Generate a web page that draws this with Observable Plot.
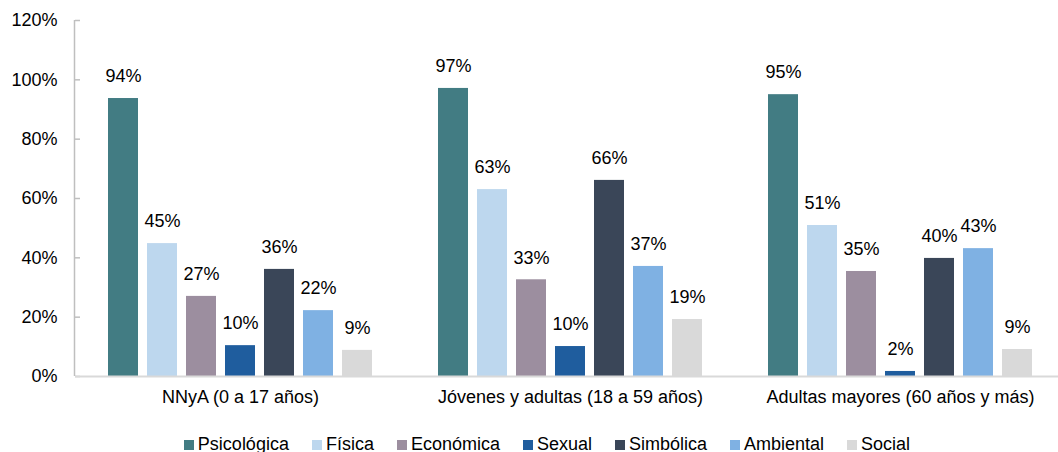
<!DOCTYPE html>
<html>
<head>
<meta charset="utf-8">
<script src="https://cdn.jsdelivr.net/npm/d3@7"></script>
<script src="https://cdn.jsdelivr.net/npm/@observablehq/plot@0.6"></script>
<style>
  html, body { margin: 0; padding: 0; background: #fff; overflow: hidden; }
  body { width: 1058px; font-family: "Liberation Sans", Arial, sans-serif; color: #000; }
  #legend { display: flex; justify-content: center; gap: 23px; padding-left: 36px; margin-top: 18px;
            font-size: 18px; line-height: 21px; }
  #legend .item { display: flex; align-items: center; }
  #legend .sw { width: 10px; height: 10px; margin-right: 4px; }
</style>
</head>
<body>
<div id="chart"></div>
<div id="legend"></div>
<script>
const groups = ["NNyA (0 a 17 años)", "Jóvenes y adultas (18 a 59 años)", "Adultas mayores (60 años y más)"];
const series = ["Psicológica", "Física", "Económica", "Sexual", "Simbólica", "Ambiental", "Social"];
const colors = ["#427C83", "#BDD7EE", "#9C8E9F", "#1F5D9E", "#3A4658", "#7FB1E3", "#D9D9D9"];
const valuesNNyA = [93.7, 44.8, 27.0, 10.4, 36.1, 22.2, 8.8];
const valuesJovenes = [97.1, 63.0, 32.6, 10.1, 66.1, 37.1, 19.2];
const valuesMayores = [95.0, 50.9, 35.4, 1.7, 39.8, 43.1, 9.1];
const yTicks = [0, 20, 40, 60, 80, 100, 120];

const allValues = [valuesNNyA, valuesJovenes, valuesMayores];
const data = [];
groups.forEach((g, gi) => series.forEach((s, si) => data.push({group: g, series: s, value: allValues[gi][si]})));

const plot = Plot.plot({
  width: 1058,
  height: 416,
  marginLeft: 75,
  marginRight: -7,
  marginTop: 20,
  marginBottom: 40,
  style: {fontFamily: "Liberation Sans, Arial, sans-serif", fontSize: "18px", color: "#000", background: "#fff"},
  fx: {domain: groups, padding: 0, label: null},
  x: {domain: series, paddingInner: 0.22, paddingOuter: 0.84, axis: null},
  y: {domain: [0, 120], label: null},
  color: {domain: series, range: colors},
  marks: [
    Plot.axisY({ticks: yTicks, tickSize: -5, tickFormat: () => "", stroke: "#bfbfbf", strokeWidth: 1.5}),
    Plot.axisY({ticks: yTicks, tickSize: 0, tickPadding: 18, tickFormat: d => d + "%", fill: "#000"}),
    Plot.axisFx({anchor: "bottom", tickSize: 0, tickPadding: 14, label: null, fill: "#000"}),
    Plot.barY(data, {fx: "group", x: "series", y: "value", fill: "series"}),
    Plot.ruleY([0], {stroke: "#d9d9d9", strokeWidth: 2}),
    Plot.text(data, {fx: "group", x: "series", y: "value", text: d => Math.round(d.value) + "%",
      dy: -22, lineAnchor: "middle", fill: "#000", fontSize: 18})
  ]
});
document.getElementById("chart").appendChild(plot);

// vertical y-axis line drawn through the y scale
const ys = plot.scale("y");
const svg = d3.select(plot);
svg.append("line")
  .attr("x1", 74.5).attr("x2", 74.5)
  .attr("y1", ys.apply(120)).attr("y2", ys.apply(0))
  .attr("stroke", "#bfbfbf").attr("stroke-width", 1.5);

const legend = d3.select("#legend");
series.forEach((s, i) => {
  const item = legend.append("div").attr("class", "item");
  item.append("div").attr("class", "sw").style("background", colors[i]);
  item.append("span").text(s);
});
</script>
</body>
</html>
